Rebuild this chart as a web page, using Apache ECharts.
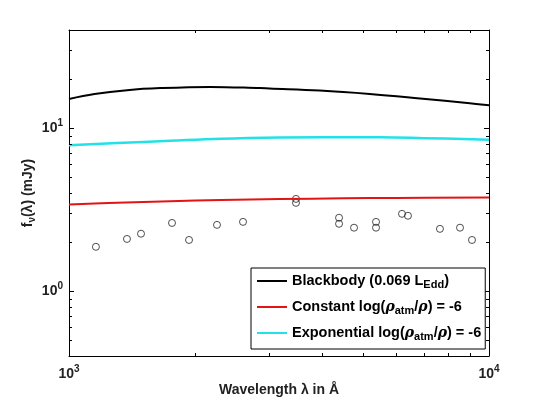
<!DOCTYPE html>
<html>
<head>
<meta charset="utf-8">
<script src="https://cdn.jsdelivr.net/npm/echarts@6/dist/echarts.min.js"></script>
<style>
  html, body { margin: 0; padding: 0; background: #fff; }
  #chart { width: 540px; height: 400px; }
</style>
</head>
<body>
<div id="chart"></div>
<script>
// curves (wavelength in Å, flux in mJy)
const bbLambda = [1000, 1150, 1375, 1650, 2170, 2850, 3000, 3950, 5200, 6850, 9000, 10000];
const bbFlux = [15.1, 16.2, 17.1, 17.6, 17.9, 17.6, 17.5, 17.0, 16.2, 15.2, 14.2, 13.8];

const constLambda = [1000, 1300, 1740, 2300, 3180, 4500, 6000, 10000];
const constFlux = [3.40, 3.49, 3.56, 3.62, 3.67, 3.71, 3.73, 3.75];

const expLambda = [1000, 1300, 1740, 2300, 3180, 4000, 5500, 7000, 10000];
const expFlux = [7.85, 8.1, 8.36, 8.6, 8.76, 8.8, 8.78, 8.68, 8.5];

// observed points
const obsLambda = [1159, 1374, 1484, 1759, 1931, 2251, 2596, 3471, 3471, 4395, 4395, 4771, 5383, 5383, 6207, 6413, 7642, 8531, 9110];
const obsFlux = [1.87, 2.09, 2.25, 2.62, 2.06, 2.55, 2.66, 3.68, 3.48, 2.82, 2.59, 2.45, 2.66, 2.45, 2.98, 2.90, 2.41, 2.45, 2.06];

// minor tick values
const xMinor = [2000, 3000, 4000, 5000, 6000, 7000, 8000, 9000];
const yMinor = [0.5, 0.6, 0.7, 0.8, 0.9, 2, 3, 4, 5, 6, 7, 8, 9, 20, 30, 40];

const FONT = "'Liberation Sans', Arial, sans-serif";

const pairs = (xs, ys) => xs.map((x, i) => [x, ys[i]]);

function powLabel(v) {
  const l = Math.log10(v);
  const e = Math.round(l);
  if (Math.abs(l - e) > 1e-6) return '';
  return '{b|10}{s|' + e + '}';
}

const labelRich = {
  b: { fontFamily: FONT, fontWeight: 'bold', fontSize: 14, color: '#222', lineHeight: 20 },
  s: { fontFamily: FONT, fontWeight: 'bold', fontSize: 10, color: '#222', verticalAlign: 'top', lineHeight: 10 }
};

const legendNames = {
  Blackbody: 'Blackbody (0.069 L{sub|Edd})',
  Constant: 'Constant log({g|ρ}{sub|atm}/{g|ρ}) = -6',
  Exponential: 'Exponential log({g|ρ}{sub|atm}/{g|ρ}) = -6'
};

const chart = echarts.init(document.getElementById('chart'));

function tickLine(x1, y1, x2, y2) {
  return { type: 'line', shape: { x1, y1, x2, y2 }, style: { stroke: '#000', lineWidth: 1 } };
}

const option = {
  animation: false,
  backgroundColor: '#fff',
  grid: { left: 69, right: 51, top: 30, bottom: 44, outerBoundsMode: 'none' },
  legend: {
    data: ['Blackbody', 'Constant', 'Exponential'],
    orient: 'vertical',
    left: 251,
    top: 268,
    padding: [4, 4, 7, 6],
    itemGap: 8,
    itemWidth: 30,
    itemHeight: 2,
    icon: 'rect',
    borderColor: '#000',
    borderWidth: 1,
    backgroundColor: '#fff',
    formatter: (name) => legendNames[name],
    textStyle: {
      fontFamily: FONT, fontWeight: 'bold', fontSize: 14.5, color: '#000', lineHeight: 18,
      rich: {
        sub: { fontFamily: FONT, fontWeight: 'bold', fontSize: 11, color: '#000', verticalAlign: 'bottom', lineHeight: 11 },
        g: { fontFamily: "'DejaVu Serif', serif", fontStyle: 'italic', fontSize: 14, color: '#000', lineHeight: 18 }
      }
    }
  },
  xAxis: [{
    type: 'log', logBase: 10, min: 1000, max: 10000,
    name: 'Wavelength λ in Å',
    nameLocation: 'middle',
    nameGap: 27,
    nameMoveOverlap: false,
    nameTextStyle: { fontFamily: FONT, fontWeight: 'bold', fontSize: 14, color: '#222' },
    axisLine: { lineStyle: { color: '#000', width: 1 } },
    axisTick: { inside: true, length: 5, lineStyle: { color: '#000' } },
    axisLabel: { margin: 8, formatter: powLabel, rich: labelRich },
    splitLine: { show: false }
  }, {
    type: 'log', logBase: 10, min: 1000, max: 10000, position: 'top',
    axisLine: { lineStyle: { color: '#000', width: 1 } },
    axisTick: { inside: true, length: 5, lineStyle: { color: '#000' } },
    axisLabel: { show: false },
    splitLine: { show: false }
  }],
  yAxis: [{
    type: 'log', logBase: 10, min: 0.4, max: 40,
    name: 'f{sub|ν}(λ) (mJy)',
    nameLocation: 'middle',
    nameGap: 32,
    nameMoveOverlap: false,
    nameRotate: 90,
    nameTextStyle: {
      fontFamily: FONT, fontWeight: 'bold', fontSize: 14, color: '#222', lineHeight: 18,
      rich: { sub: { fontFamily: FONT, fontWeight: 'bold', fontSize: 10, color: '#222', verticalAlign: 'bottom', lineHeight: 11 } }
    },
    axisLine: { lineStyle: { color: '#000', width: 1 } },
    axisTick: { inside: true, length: 5, lineStyle: { color: '#000' } },
    axisLabel: { margin: 6, formatter: powLabel, rich: labelRich },
    splitLine: { show: false }
  }, {
    type: 'log', logBase: 10, min: 0.4, max: 40, position: 'right',
    axisLine: { lineStyle: { color: '#000', width: 1 } },
    axisTick: { inside: true, length: 5, lineStyle: { color: '#000' } },
    axisLabel: { show: false },
    splitLine: { show: false }
  }],
  series: [
    {
      name: 'Observed', type: 'scatter', symbol: 'circle', symbolSize: 7,
      itemStyle: { color: 'rgba(255,255,255,0)', borderColor: '#222', borderWidth: 1 },
      data: pairs(obsLambda, obsFlux)
    },
    {
      name: 'Blackbody', type: 'line', symbol: 'none', smooth: 0.4,
      lineStyle: { color: '#000', width: 2 }, itemStyle: { color: '#000' },
      data: pairs(bbLambda, bbFlux)
    },
    {
      name: 'Constant', type: 'line', symbol: 'none', smooth: 0.4,
      lineStyle: { color: '#e31414', width: 2 }, itemStyle: { color: '#e31414' },
      data: pairs(constLambda, constFlux)
    },
    {
      name: 'Exponential', type: 'line', symbol: 'none', smooth: 0.4,
      lineStyle: { color: '#22e2e8', width: 2.5 }, itemStyle: { color: '#22e2e8' },
      data: pairs(expLambda, expFlux)
    },
    {
      // minor ticks on bottom and top
      type: 'custom', silent: true, z: 5,
      data: xMinor.map((v) => [v, 1]),
      renderItem: (params, api) => {
        const cs = params.coordSys;
        const x = Math.round(api.coord([api.value(0), 1])[0]) + 0.5;
        const b = cs.y + cs.height;
        return { type: 'group', children: [tickLine(x, b, x, b - 3), tickLine(x, cs.y, x, cs.y + 3)] };
      }
    },
    {
      // minor ticks on left and right
      type: 'custom', silent: true, z: 5,
      data: yMinor.map((v) => [2000, v]),
      renderItem: (params, api) => {
        const cs = params.coordSys;
        const y = Math.round(api.coord([2000, api.value(1)])[1]) + 0.5;
        const r = cs.x + cs.width;
        return { type: 'group', children: [tickLine(cs.x, y, cs.x + 3, y), tickLine(r, y, r - 3, y)] };
      }
    }
  ]
};

chart.setOption(option);
</script>
</body>
</html>
